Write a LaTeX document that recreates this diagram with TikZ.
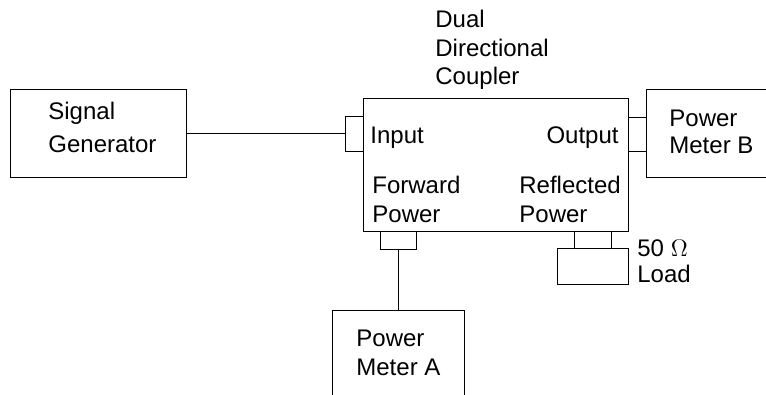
\documentclass[tikz,border=0pt]{standalone}
\usepackage{fontspec}
\setmainfont{Liberation Sans}
\begin{document}
\begin{tikzpicture}[x=0.5pt,y=-0.5pt,
	box/.style={draw,line width=0.5pt,anchor=north west,inner sep=0pt},
	lbl/.style={font=\fontsize{12}{14.5}\selectfont,align=left,anchor=base west,inner sep=0pt}]
	\clip (0,0) rectangle (766,395);

	% instruments and coupler
	\node[box,minimum width=88pt,minimum height=44pt] (sg) at (10,89) {};
	\node[box,minimum width=132.5pt,minimum height=66.5pt] (dc) at (363,98) {};
	\node[box,minimum width=66pt,minimum height=44pt] (pmb) at (646,89) {};
	\node[box,minimum width=66pt,minimum height=44pt] (pma) at (332,310) {};
	\node[box,minimum width=35.5pt,minimum height=18pt] (load) at (557,248) {};

	% ports
	\node[box,minimum width=9pt,minimum height=17.5pt] (in) at (345,116) {};
	\node[box,minimum width=9pt,minimum height=17pt] (out) at (628,117) {};
	\node[box,minimum width=18pt,minimum height=9pt] (fw) at (380,231) {};
	\node[box,minimum width=18.5pt,minimum height=8.5pt] (rf) at (574,231) {};

	\draw[line width=0.5pt] (sg.east) -- (sg.east -| in.west);
	\draw[line width=0.5pt] (fw.south) -- (pma.north);

	% labels (base = last line)
	\node[lbl,font=\fontsize{12}{16.5}\selectfont] (sgt) at (48,153) {Signal\\Generator};
	\node[lbl,font=\fontsize{12}{14.25}\selectfont] (dct) at (435,85) {Dual\\Directional\\Coupler};
	\node[lbl] (int) at (370,144) {Input};
	\node[lbl,anchor=base east] (outt) at (619,144) {Output};
	\node[lbl] (fwt) at (372,223) {Forward\\Power};
	\node[lbl] (rft) at (519,223) {Reflected\\Power};
	\node[lbl,font=\fontsize{12}{13.5}\selectfont] (pmbt) at (669,154) {Power\\Meter B};
	\node[lbl] (pmat) at (356,376) {Power\\Meter A};
	\node[lbl,font=\fontsize{12}{13}\selectfont] (loadt) at (637,283) {50 $\Omega$\\Load};
\end{tikzpicture}
\end{document}
